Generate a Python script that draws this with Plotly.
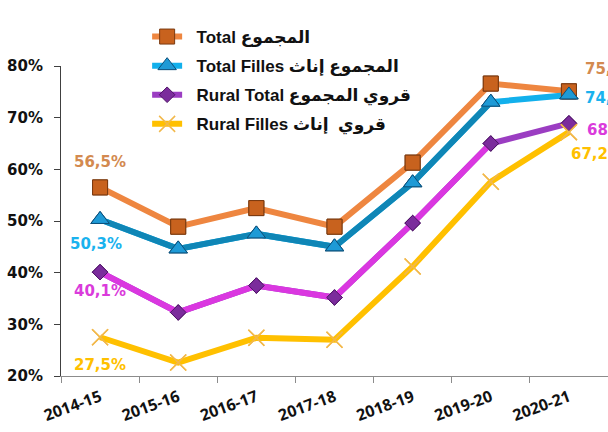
import plotly.graph_objects as go

categories = ["2014-15", "2015-16", "2016-17", "2017-18", "2018-19", "2019-20", "2020-21"]
total = [56.5, 48.9, 52.5, 48.9, 61.3, 76.6, 75.1]
total_filles = [50.3, 44.6, 47.5, 45.0, 57.4, 73.0, 74.4]
rural_total = [40.1, 32.3, 37.5, 35.2, 49.6, 65.0, 68.9]
rural_filles = [27.5, 22.6, 27.4, 27.0, 41.2, 57.6, 67.2]
series_names = ["Total المجموع", "Total Filles المجموع إناث",
                "Rural Total قروي المجموع", "Rural Filles قروي  إناث"]
y_ticks = [20, 30, 40, 50, 60, 70, 80]

series = [total, total_filles, rural_total, rural_filles]
legend_colors = ["#EE8640", "#12B0EC", "#9B3DC2", "#FFC000"]
early_colors = ["#EE8640", "#0F86B6", "#DA37E0", "#FFC000"]
label_colors = ["#D38A50", "#1AB2EE", "#DA3BDB", "#FFC000"]
markers = [
    dict(symbol="square", size=15, color="#C8621E", line=dict(color="#7A3A10", width=1)),
    dict(symbol="triangle-up", size=16, color="#1E9AD6", line=dict(color="#0B4F7A", width=1)),
    dict(symbol="diamond", size=12, color="#7B2C9C", line=dict(color="#4E1466", width=1)),
    dict(symbol="x-thin", size=16, color="#F2B84A", line=dict(color="#F2B84A", width=1.5)),
]

fig = go.Figure()
legend_font = dict(family="Liberation Sans, DejaVu Sans, sans-serif", size=17, color="#111111")

for i, vals in enumerate(series):
    fig.add_trace(go.Scatter(
        x=categories, y=vals, name="\u00a0\u00a0<b>" + series_names[i] + "</b>",
        mode="lines+markers",
        line=dict(color=legend_colors[i], width=6), marker=markers[i],
        legendgroup=f"g{i}", cliponaxis=False))
for i, vals in enumerate(series):
    if early_colors[i] != legend_colors[i]:
        fig.add_trace(go.Scatter(
            x=categories[:6], y=vals[:6], mode="lines", showlegend=False,
            line=dict(color=early_colors[i], width=6), hoverinfo="skip"))
for i, vals in enumerate(series):
    fig.add_trace(go.Scatter(
        x=categories, y=vals, mode="markers", showlegend=False,
        marker=markers[i], hoverinfo="skip", cliponaxis=False))

def fmt(v):
    return f"{v:.1f}".replace(".", ",") + "%"

label_font = "DejaVu Sans, Verdana, sans-serif"
first_shift = [(0, 25), (-4, -25), (0, -19), (0, -28)]
last_shift = [(14, 22), (14, -3), (16, -7), (0, -22)]
for i, vals in enumerate(series):
    fig.add_annotation(x=categories[0], y=vals[0], text=f"<b>{fmt(vals[0])}</b>",
                       showarrow=False, xshift=first_shift[i][0], yshift=first_shift[i][1],
                       font=dict(family=label_font, size=15, color=label_colors[i]))
    fig.add_annotation(x=categories[-1], y=vals[-1], text=f"<b>{fmt(vals[-1])}</b>",
                       showarrow=False, xanchor="left",
                       xshift=last_shift[i][0], yshift=last_shift[i][1],
                       font=dict(family=label_font, size=15, color=label_colors[i]))

fig.update_layout(
    width=608, height=432,
    margin=dict(l=61, r=0, t=66, b=56, autoexpand=False),
    paper_bgcolor="white", plot_bgcolor="white",
    showlegend=True,
    legend=dict(x=0.242, y=1 - 19 / 432, xref="container", yref="container",
                xanchor="left", yanchor="top",
                font=legend_font, bgcolor="rgba(0,0,0,0)",
                tracegroupgap=4),
    xaxis=dict(type="category", range=[-0.5, 6.5], showgrid=False, automargin=False,
               showline=True, linecolor="#8C8C8C", linewidth=1,
               ticks="outside", tickson="boundaries", ticklen=6, tickcolor="#8C8C8C",
               tickangle=-20, ticklabelstandoff=5,
               tickvals=categories, ticktext=[f"<b>{c}</b>" for c in categories],
               tickfont=dict(family="Open Sans, sans-serif", size=16, color="#111111")),
    yaxis=dict(range=[20, 80], showgrid=False, zeroline=False, automargin=False,
               tickvals=y_ticks, ticktext=[f"<b>{t}%</b>" for t in y_ticks],
               showline=True, linecolor="#404040", linewidth=1,
               ticks="outside", ticklen=6, tickcolor="#404040", ticklabelstandoff=8,
               tickfont=dict(family="DejaVu Sans, Verdana, sans-serif", size=15, color="#111111")),
)

fig.write_html("out.html", config={"displayModeBar": False},
               post_script="document.body.style.margin='0';document.body.style.overflow='hidden';")
